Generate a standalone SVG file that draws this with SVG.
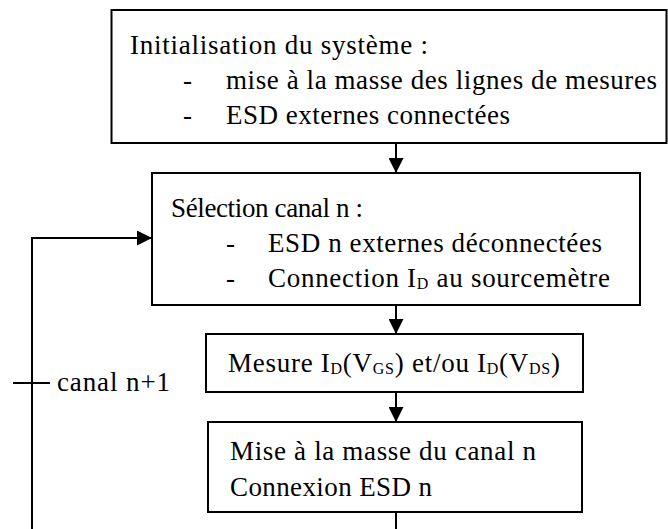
<svg xmlns="http://www.w3.org/2000/svg" width="668" height="529" viewBox="0 0 668 529">
<style>
.box{fill:#fff;stroke:#000;stroke-width:2}
.t{font-family:"Liberation Serif","Times New Roman","DejaVu Serif",serif;font-size:27px;fill:#000}
.sub{font-size:16px}
.ln{fill:none;stroke:#000;stroke-width:2}
</style>
<defs>
<marker id="ah" viewBox="0 0 10 10" refX="10" refY="5" markerWidth="15" markerHeight="15" markerUnits="userSpaceOnUse" orient="auto">
<path d="M0,0 L10,5 L0,10 Z" fill="#000"/>
</marker>
</defs>
<rect width="668" height="529" fill="#fff"/>
<g font-family="Liberation Serif, Times New Roman, serif">
<g id="connectors">
<line class="ln" x1="396" y1="143" x2="396" y2="173" marker-end="url(#ah)"/>
<line class="ln" x1="396" y1="305" x2="396" y2="334" marker-end="url(#ah)"/>
<line class="ln" x1="396" y1="392" x2="396" y2="422" marker-end="url(#ah)"/>
<line class="ln" x1="396" y1="512" x2="396" y2="529"/>
<polyline class="ln" points="32,529 32,238 152,238" marker-end="url(#ah)"/>
<line class="ln" x1="13" y1="383" x2="50" y2="383"/>
<text class="t" x="57" y="391" textLength="113" lengthAdjust="spacing">canal n+1</text>
</g>
<g id="init">
<rect class="box" x="111.5" y="10" width="555" height="133"/>
<text class="t" x="130" y="54" textLength="298" lengthAdjust="spacing">Initialisation du système :</text>
<text class="t" x="183" y="89">-</text>
<text class="t" x="226" y="89" textLength="431" lengthAdjust="spacing">mise à la masse des lignes de mesures</text>
<text class="t" x="183" y="124">-</text>
<text class="t" x="226" y="124" textLength="284" lengthAdjust="spacing">ESD externes connectées</text>
</g>
<g id="selection">
<rect class="box" x="152" y="173" width="488" height="132"/>
<text class="t" x="171" y="217" textLength="192" lengthAdjust="spacing">Sélection canal n :</text>
<text class="t" x="226" y="252">-</text>
<text class="t" x="268" y="252" textLength="334" lengthAdjust="spacing">ESD n externes déconnectées</text>
<text class="t" x="226" y="287">-</text>
<text class="t" x="268" y="287" textLength="342" lengthAdjust="spacing">Connection I<tspan class="sub" dy="2">D</tspan><tspan dy="-2"> au sourcemètre</tspan></text>
</g>
<g id="mesure">
<rect class="box" x="206" y="334" width="377" height="58"/>
<text class="t" x="228" y="372" textLength="332" lengthAdjust="spacing">Mesure I<tspan class="sub" dy="2">D</tspan><tspan dy="-2">(V</tspan><tspan class="sub" dy="2">GS</tspan><tspan dy="-2">) et/ou I</tspan><tspan class="sub" dy="2">D</tspan><tspan dy="-2">(V</tspan><tspan class="sub" dy="2">DS</tspan><tspan dy="-2">)</tspan></text>
</g>
<g id="masse">
<rect class="box" x="208" y="422" width="374" height="90"/>
<text class="t" x="230" y="460" textLength="306" lengthAdjust="spacing">Mise à la masse du canal n</text>
<text class="t" x="230" y="496" textLength="202" lengthAdjust="spacing">Connexion ESD n</text>
</g>
</g>
</svg>
